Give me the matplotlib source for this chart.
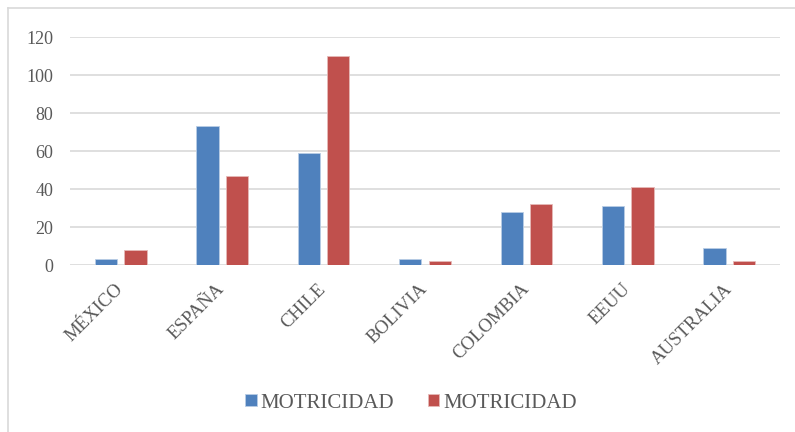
import numpy as np
import matplotlib.pyplot as plt
from matplotlib.lines import Line2D
from matplotlib.transforms import ScaledTranslation

# Data
paises = ['MÉXICO', 'ESPAÑA', 'CHILE', 'BOLIVIA', 'COLOMBIA', 'EEUU', 'AUSTRALIA']
serie_1 = [3, 73, 59, 3, 28, 31, 9]
serie_2 = [8, 47, 110, 2, 32, 41, 2]
nombres = ['MOTRICIDAD', 'MOTRICIDAD']

azul = '#4F81BD'
rojo = '#C0504D'
gris = '#595959'

plt.rcParams['font.family'] = ['Liberation Serif', 'DejaVu Serif']

fig = plt.figure(figsize=(7.95, 4.32), dpi=100)
ax = fig.add_axes([70 / 795, 1 - 265 / 432, 710 / 795, 228 / 432])

x = np.arange(len(paises))
ancho = 0.22
ax.bar(x - 0.145, serie_1, ancho, color=azul, label=nombres[0], zorder=3,
       edgecolor='#B9CDE5', linewidth=0.6)
ax.bar(x + 0.145, serie_2, ancho, color=rojo, label=nombres[1], zorder=3,
       edgecolor='#E6B9B8', linewidth=0.6)

ax.set_xlim(-0.5, len(paises) - 0.5)
ax.set_ylim(0, 120)
ax.set_yticks(range(0, 121, 20))
ax.yaxis.grid(True, color='#D9D9D9', linewidth=1.2, zorder=0)
ax.set_axisbelow(True)
for s in ax.spines.values():
    s.set_visible(False)
ax.tick_params(length=0, labelsize=13, labelcolor=gris)
ax.tick_params(axis='y', pad=12)
ax.set_xticks(x)
ax.set_xticklabels(paises, rotation=45, ha='right', va='top', fontsize=13.5)
ax.tick_params(axis='x', pad=11)
desplazar = ScaledTranslation(6 / 100, 0, fig.dpi_scale_trans)
for lbl in ax.get_xticklabels():
    lbl.set_transform(lbl.get_transform() + desplazar)

fig.legend(loc='center', bbox_to_anchor=(0.517, 1 - 403 / 432), ncol=2,
           frameon=False, fontsize=15, handlelength=0.55, handleheight=0.55,
           handletextpad=0.2, columnspacing=1.6, labelcolor=gris)

# chart frame
fig.add_artist(Line2D([8 / 795, 1], [1 - 8 / 432] * 2, color='#D9D9D9', lw=1.2))
fig.add_artist(Line2D([8 / 795] * 2, [0, 1 - 8 / 432], color='#D9D9D9', lw=1.2))

fig.savefig('out.png', dpi=100)
